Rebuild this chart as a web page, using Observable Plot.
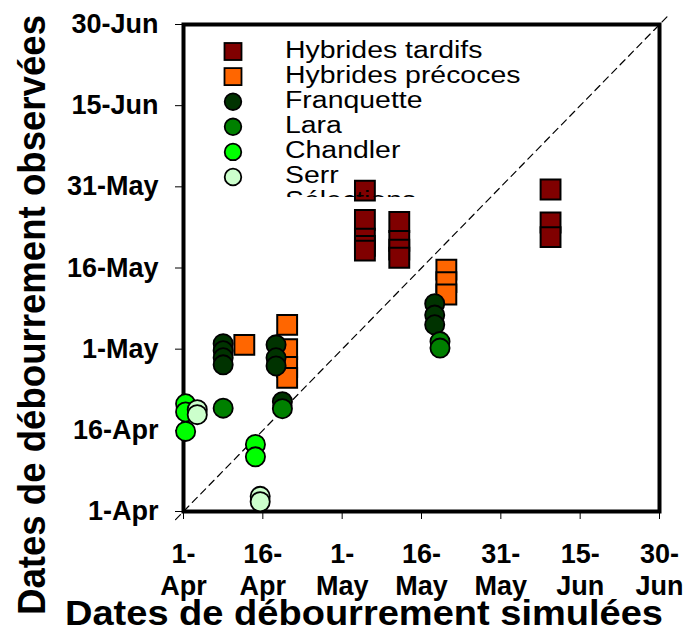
<!DOCTYPE html>
<html><head><meta charset="utf-8">
<script src="https://cdn.jsdelivr.net/npm/d3@7"></script>
<script src="https://cdn.jsdelivr.net/npm/@observablehq/plot@0.6"></script>
<style>body{margin:0;background:#fff}#chart{width:686px;height:635px}</style>
</head><body><div id="chart"></div>
<script>
// Days counted from 1 April
const tickDays = [0, 15, 30, 45, 60, 75, 90];
const yTickLabels = ["1-Apr", "16-Apr", "1-May", "16-May", "31-May", "15-Jun", "30-Jun"];
const xTickLabels = ["1-\nApr", "16-\nApr", "1-\nMay", "16-\nMay", "31-\nMay", "15-\nJun", "30-\nJun"];
const diagonal = [-1.5, 91.5];

const seriesNames = ["Hybrides tardifs", "Hybrides précoces", "Franquette", "Lara", "Chandler", "Serr", "Sélections"];
const seriesColors = ["#800000", "#ff6600", "#003300", "#008000", "#00ff00", "#ccffcc", "#ffffff"];
const seriesShapes = ["square", "square", "circle", "circle", "circle", "circle", "circle"];

// simulated (x) and observed (y) dates, in days from 1 April
const tardifsSim = [34.3, 34.3, 34.3, 34.3, 34.3, 40.8, 40.8, 40.8, 40.8, 69.4, 69.4, 69.4];
const tardifsObs = [59.3, 53.9, 50.4, 49.1, 48.2, 53.5, 50.0, 48.4, 46.9, 59.5, 53.4, 50.7];
const precocesSim = [11.5, 19.6, 19.6, 19.6, 19.6, 49.7, 49.7, 49.7];
const precocesObs = [30.8, 34.5, 30.0, 26.7, 24.7, 44.7, 42.4, 40.1];
const franquetteSim = [7.5, 7.5, 7.5, 7.5, 17.5, 17.5, 17.5, 18.7, 47.5, 47.5, 47.5];
const franquetteObs = [31.0, 29.7, 28.4, 27.1, 30.8, 28.4, 26.9, 20.3, 38.4, 36.3, 34.5];
const laraSim = [7.5, 18.7, 48.5, 48.5];
const laraObs = [19.1, 19.0, 31.4, 30.2];
const chandlerSim = [0.4, 0.4, 0.4, 13.6, 13.6];
const chandlerObs = [19.9, 18.4, 14.8, 12.4, 10.1];
const serrSim = [2.6, 2.6, 14.5, 14.5];
const serrObs = [18.8, 17.9, 2.8, 1.8];

const groups = [
  [tardifsSim, tardifsObs], [precocesSim, precocesObs], [franquetteSim, franquetteObs],
  [laraSim, laraObs], [chandlerSim, chandlerObs], [serrSim, serrObs]
];

const FONT = "'Liberation Sans', Arial, Helvetica, sans-serif";

const dotMarks = groups.map(([xs, ys], k) => {
  const rows = xs.map((x, i) => ({x, y: ys[i]}));
  const sq = seriesShapes[k] === "square";
  return Plot.dot(rows, {
    x: "x", y: "y", symbol: seriesShapes[k], r: sq ? 11.2 : 9.6,
    fill: seriesColors[k], stroke: "black", strokeWidth: sq ? 2 : 1.8
  });
});

const chart = Plot.plot({
  width: 686, height: 635,
  marginLeft: 183, marginRight: 27, marginTop: 24, marginBottom: 124,
  style: {fontFamily: FONT, background: "white", overflow: "visible"},
  x: {type: "linear", domain: [0, 90]},
  y: {type: "linear", domain: [0, 90]},
  marks: [
    Plot.axisY({ticks: tickDays, tickFormat: d => yTickLabels[tickDays.indexOf(d)], tickSize: 8, tickPadding: 17,
      fontSize: 27, fontWeight: "bold", label: null, fill: "black"}),
    Plot.axisX({ticks: tickDays, tickFormat: d => xTickLabels[tickDays.indexOf(d)], tickSize: 8, tickPadding: 20,
      fontSize: 27, fontWeight: "bold", lineHeight: 1.2, label: null, fill: "black"}),
    Plot.line(diagonal.map(d => [d, d]), {x: d => d[0], y: d => d[1], stroke: "black", strokeWidth: 1.2, strokeDasharray: "7,5"}),
    Plot.frame({stroke: "black", strokeWidth: 4}),
    ...dotMarks
  ]
});
document.getElementById("chart").appendChild(chart);

const svg = d3.select(chart);
// axis titles
svg.append("text").attr("x", 65).attr("y", 625).attr("text-anchor", "start")
  .attr("textLength", 598).attr("lengthAdjust", "spacingAndGlyphs")
  .attr("font-family", FONT).attr("font-weight", "bold").attr("font-size", 35).attr("fill", "black")
  .text("Dates de débourrement simulées");
svg.append("text").attr("transform", "translate(45,615) rotate(-90)").attr("text-anchor", "start")
  .attr("textLength", 600).attr("lengthAdjust", "spacingAndGlyphs")
  .attr("font-family", FONT).attr("font-weight", "bold").attr("font-size", 38).attr("fill", "black")
  .text("Dates de débourrement observées");

// legend
svg.append("clipPath").attr("id", "legclip").append("rect").attr("x", 200).attr("y", 30).attr("width", 360).attr("height", 167);
const leg = svg.append("g").attr("clip-path", "url(#legclip)");
seriesNames.forEach((name, i) => {
  const y = 51.5 + 25.1 * i;
  if (i < 6) {
    if (seriesShapes[i] === "square") {
      leg.append("rect").attr("x", 233 - 8.5).attr("y", y - 8.5).attr("width", 17).attr("height", 17)
        .attr("fill", seriesColors[i]).attr("stroke", "black").attr("stroke-width", 1.8);
    } else {
      leg.append("circle").attr("cx", 233).attr("cy", y).attr("r", 8.3)
        .attr("fill", seriesColors[i]).attr("stroke", "black").attr("stroke-width", 1.8);
    }
  }
  leg.append("text").attr("transform", `translate(285,${y + 6}) scale(1.21,1)`).attr("text-anchor", "start")
    .attr("font-family", FONT).attr("font-size", 23.5).attr("fill", "black").text(name);
});
</script>
</body></html>
